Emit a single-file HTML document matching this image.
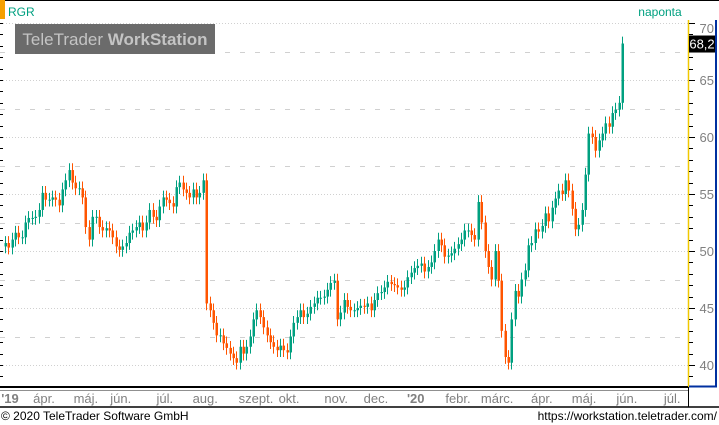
<!DOCTYPE html>
<html><head><meta charset="utf-8">
<style>
html,body{margin:0;padding:0;background:#fff;}
svg{display:block;font-family:"Liberation Sans",sans-serif;}
</style></head>
<body>
<svg id="c" width="719" height="425" viewBox="0 0 719 425">
  <rect x="0" y="0" width="719" height="425" fill="#fff"/>
  <line x1="0" y1="0.5" x2="719" y2="0.5" stroke="#000"/>
  <rect x="0" y="0" width="5" height="19" fill="#f5a000"/>
  <text x="8" y="16" font-size="12" fill="#00a080">RGR</text>
  <text x="660" y="16" font-size="12" fill="#00a080" text-anchor="middle">naponta</text>
  <g id="grid"></g>
  <rect x="15" y="24" width="200" height="30" fill="#6b6b6b"/>
  <text x="115" y="45" font-size="17" fill="#c4c4c4" text-anchor="middle">TeleTrader <tspan font-weight="bold">WorkStation</tspan></text>
  <g id="candles"></g>
  <g id="yaxis"></g>
  <g id="xaxis"></g>
  <text x="1" y="420" font-size="12" fill="#000">© 2020 TeleTrader Software GmbH</text>
  <text x="717" y="420" font-size="12" fill="#000" text-anchor="end">https://workstation.teletrader.com/</text>
</svg>
<script>
const closes = [
50.7,50.3,51,51.6,51.2,51.2,52.5,52.9,52.9,53,53.6,55.1,54.5,54.5,54.7,54.5,54,55.4,56.2,57.1,56,55.5,55.5,54.7,52.1,51,53,53,52.1,51.8,52,51.8,51.2,50.4,50.1,50.4,50.7,51.6,51.8,52.1,52.5,51.8,52.5,53.6,53,52.7,53.9,54.7,54.5,54.2,53.9,55.6,56,55.4,55.1,54.7,55.4,54.7,55.1,56.2,
45.4,44.8,43.7,42.6,42.6,41.9,41.5,41,40.6,40.2,41.6,41,41.6,42.5,44,44.8,44.2,43.3,42.6,42,41.6,41.3,41.7,41.3,41.1,42.5,43.7,44.2,44.8,44.2,44.5,45.1,45.4,45.9,45.9,46,46.6,47.2,47.4,44,44.6,45.7,45.1,44.8,44.8,45,45.2,45.1,45.4,44.8,45.7,46.3,46.4,46.8,47.3,47.1,47,46.8,46.6,46.8,47.7,48.1,48.5,48.7,48.9,
48.2,48.6,49,50,51,50.5,49.5,49.6,49.8,50.2,50.6,51,51.8,51.8,51.4,51,54.3,52.5,50,48.6,47.5,50,47.4,43,40.7,40.2,44,46.5,46,47.5,48.3,50.5,50.7,51.9,51.7,52.2,53.3,52.6,53.8,54.6,55.3,55,56.2,55.3,53.7,51.9,52.3,53.6,56.7,60.3,60,58.8,59.7,60.3,61.2,60.9,62.1,62.4,63,
68.2];
const yTicks = [70,65,60,55,50,45,40];
const yTickLabels = ["70","65","60","55","50","45","40"];
const lastValueLabel = "68,2";
const monthLabels = ["'19","ápr.","máj.","jún.","júl.","aug.","szept.","okt.","nov.","dec.","'20","febr.","márc.","ápr.","máj.","jún.","júl."];
const monthPos = [0,0.0556,0.124,0.181,0.253,0.319,0.402,0.456,0.533,0.598,0.663,0.732,0.796,0.869,0.938,1.008,1.082];

const NS = "http://www.w3.org/2000/svg";
function el(tag, attrs, parent){const e=document.createElementNS(NS,tag);for(const k in attrs)e.setAttribute(k,attrs[k]);parent.appendChild(e);return e;}
const yScale = v => 23 + (70 - v) * 11.4;
const xStart = 5, xEnd = 622;
const xScale = i => xStart + i * (xEnd - xStart) / (closes.length - 1);
const xMonth = p => 10 + p * 612;

const grid = document.getElementById('grid');
for (let v = 70; v >= 40; v -= 2.5) {
  const y = Math.round(yScale(v)) + 0.5;
  const major = (v % 5 === 0);
  const g = el('line',{x1:0,y1:y,x2:688,y2:y,stroke:'#d0d0d0','stroke-dasharray':major?'1,2':'5,10'},grid);
  
  
}

const cg = document.getElementById('candles');
for (let i = 0; i < closes.length; i++) {
  const c = closes[i];
  const o = i === 0 ? c - 0.3 : closes[i-1];
  const hi = Math.max(o, c) + 0.6, lo = Math.min(o, c) - 0.6;
  const col = c >= o ? '#00a080' : '#ff5500';
  const x = Math.round(xScale(i));
  const w = el('line',{x1:x+0.5,y1:yScale(hi),x2:x+0.5,y2:yScale(lo),stroke:col,'stroke-width':1},cg);
  
  
  const top = yScale(Math.max(o,c)), bot = yScale(Math.min(o,c));
  const b = el('rect',{x:x-0.5,y:top,width:2.5,height:Math.max(1,bot-top),fill:col},cg);
  
  
}

const ya = document.getElementById('yaxis');
let a = el('line',{x1:688.5,y1:20,x2:688.5,y2:387,stroke:'#f0c800','stroke-width':1.5},ya);


a = el('polyline',{points:'716,20 716,386.5 689,386.5',fill:'none',stroke:'#0030a0','stroke-width':2},ya);


for (let v = 39; v <= 70; v++) {
  const y = Math.round(yScale(v)) + 0.5;
  const t = el('line',{x1:689,y1:y,x2:(v%5===0?695:693),y2:y,stroke:'#000'},ya);
  
  
  const t2 = el('line',{x1:0,y1:y,x2:3,y2:y,stroke:'#000'},ya);
  
  
}
yTicks.forEach((v, k) => {
  let y = yScale(v) + 5;
  if (v === 70) y = yScale(v) + 10;
  const t = el('text',{x:714,y:y,'font-size':13,fill:'#808080','text-anchor':'end'},ya);
  t.textContent = yTickLabels[k];
  
  
});
const lastY = yScale(closes[closes.length-1]);
a = el('rect',{x:689,y:lastY-8,width:26,height:17,fill:'#000'},ya);


a = el('text',{x:702,y:lastY+5,'font-size':13,fill:'#fff','text-anchor':'middle'},ya);
a.textContent = lastValueLabel;



const xa = document.getElementById('xaxis');
a = el('line',{x1:0,y1:387,x2:688,y2:387,stroke:'#000','stroke-width':2},xa);


a = el('line',{x1:0,y1:390.5,x2:688,y2:390.5,stroke:'#909090'},xa);


a = el('line',{x1:0,y1:407,x2:719,y2:407,stroke:'#000','stroke-width':1.5},xa);


a = el('line',{x1:688.5,y1:387,x2:688.5,y2:407,stroke:'#000'},xa);


monthLabels.forEach((m, k) => {
  const x = xMonth(monthPos[k]);
  if (x > 682) return;
  const t = el('text',{x:x,y:403,'font-size':13,fill:'#808080','text-anchor':'middle','font-weight':(m[0]==="'"?'bold':'normal')},xa);
  t.textContent = m;
  
  
});
</script>
</body></html>
